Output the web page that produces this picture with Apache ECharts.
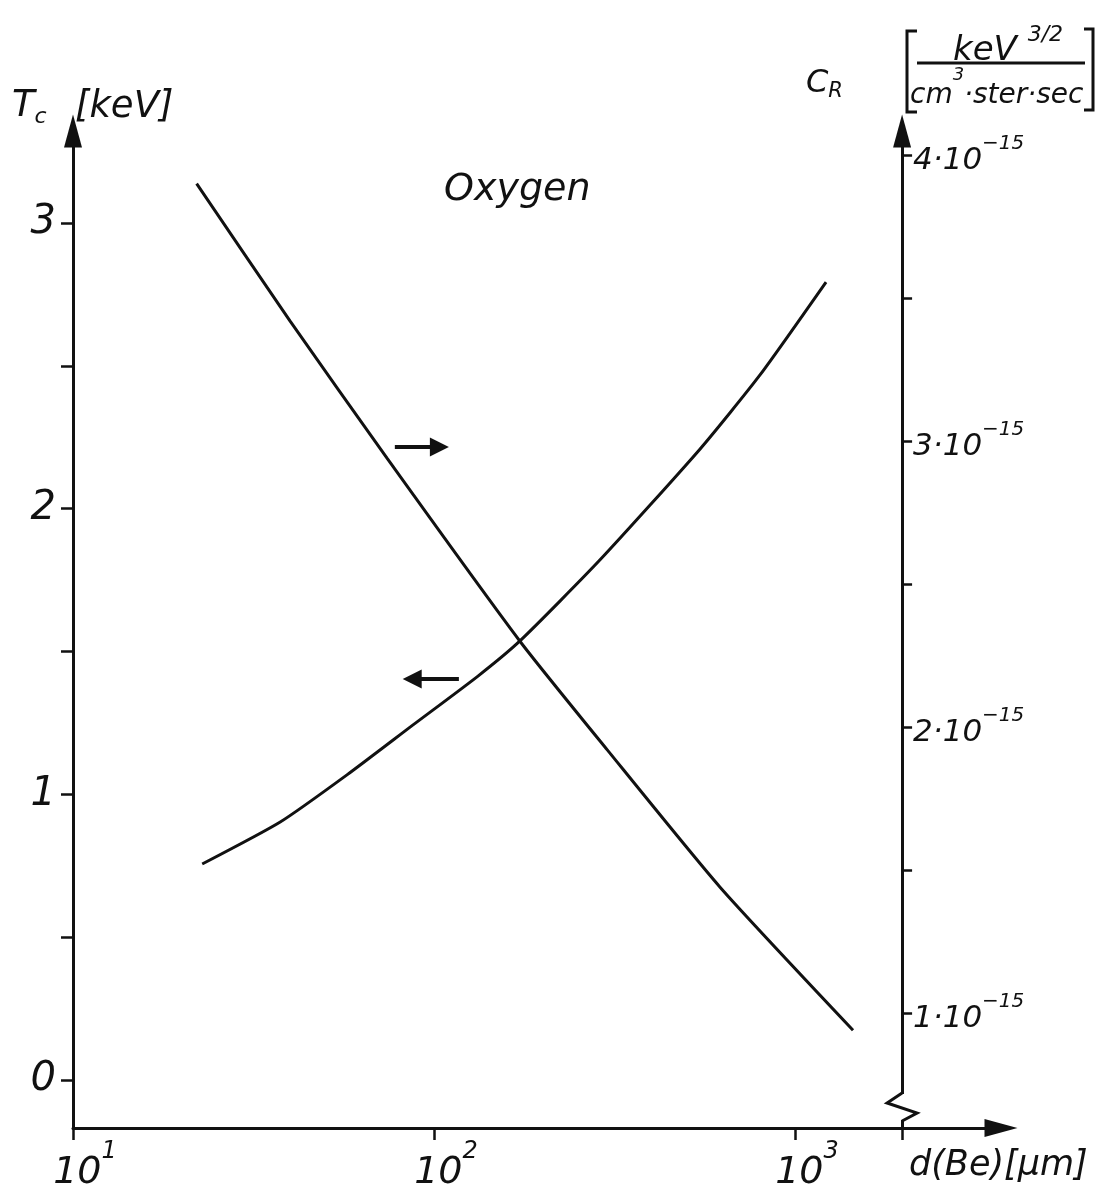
<!DOCTYPE html>
<html><head><meta charset="utf-8">
<script src="https://cdn.jsdelivr.net/npm/echarts@6/dist/echarts.min.js"></script>
<style>html,body{margin:0;padding:0;background:#fff}#c{width:1101px;height:1190px}</style>
</head><body><div id="c"></div>
<script>
// ---- data ----
// rising curve: colour temperature T_c [keV] vs Be thickness d [µm] (left axis)
const tcThickness = [22.8, 37.5, 57.4, 87.5, 132.4, 173, 288, 546, 800, 1219];
const tcValues    = [0.756, 0.903, 1.068, 1.243, 1.414, 1.537, 1.820, 2.209, 2.468, 2.793];
// falling curve: count ratio C_R in units of 10^-15 (right axis)
const crThickness = [22.0, 39.9, 74.1, 173, 302, 620, 1448];
const crValues    = [3.90, 3.42, 2.94, 2.30, 1.92, 1.44, 0.94];
// ticks
const xTickValues   = [10, 100, 1000];
const tcTickValues  = [0, 0.5, 1, 1.5, 2, 2.5, 3];
const tcLabelValues = [0, 1, 2, 3];
const crTickValues  = [1, 1.5, 2, 2.5, 3, 3.5, 4];
const crLabelValues = [1, 2, 3, 4];
const crExponent = '\u221215';
// axis ranges
const xRange  = [10, 3721];
const tcRange = [-0.168, 3.322];
const crRange = [0.598, 4.084];
const rightAxisAt = 1980;            // d value where the C_R axis stands
// pointer arrows telling which axis a curve belongs to
const arrowToCR = [[77.9, 2.979], [103.5, 2.979]];
const arrowToTc = [[117.2, 1.404], [87.0, 1.404]];

const FONT = "'DejaVu Sans', 'Noto Sans', sans-serif";
const INK = '#111';
const pair = (xs, ys) => xs.map((x, i) => [x, ys[i]]);
const txt = (size, extra) => Object.assign({fontSize: size, fontFamily: FONT, fontStyle: 'italic', fill: INK}, extra || {});

const chart = echarts.init(document.getElementById('c'));
const axisLineStyle = {color: INK, width: 3};
const option = {
  animation: false,
  backgroundColor: '#fff',
  grid: {left: 73, right: 100, top: 131, bottom: 62, containLabel: false, outerBoundsMode: 'none'},
  xAxis: {
    type: 'log', logBase: 10, min: xRange[0], max: xRange[1],
    axisLine: {show: true, onZero: false, lineStyle: axisLineStyle, symbol: ['none', 'triangle'], symbolSize: [18, 33]},
    axisTick: {show: true, length: 12, lineStyle: {color: INK, width: 2.5}, customValues: xTickValues.concat([rightAxisAt])},
    axisLabel: {
      customValues: xTickValues, margin: 12, padding: [0, 0, 0, 24],
      formatter: v => '{b|10}{s|' + Math.round(Math.log10(v)) + '}',
      rich: {
        b: {fontSize: 38, fontFamily: FONT, fontStyle: 'italic', color: INK, lineHeight: 52, verticalAlign: 'bottom'},
        s: {fontSize: 24, fontFamily: FONT, fontStyle: 'italic', color: INK, lineHeight: 20, verticalAlign: 'top'}
      }
    },
    splitLine: {show: false}, minorTick: {show: false}, minorSplitLine: {show: false}
  },
  yAxis: [
    {
      type: 'value', position: 'left', min: tcRange[0], max: tcRange[1],
      axisLine: {show: true, onZero: false, lineStyle: axisLineStyle, symbol: ['none', 'triangle'], symbolSize: [18, 33]},
      axisTick: {show: true, length: 12, lineStyle: {color: INK, width: 2.5}, customValues: tcTickValues},
      axisLabel: {customValues: tcLabelValues, margin: 17, fontSize: 40, fontFamily: FONT, fontStyle: 'italic', color: INK},
      splitLine: {show: false}
    },
    {
      type: 'value', position: 'right', min: crRange[0], max: crRange[1], offset: 0,
      axisLine: {show: true, onZero: false, lineStyle: axisLineStyle, symbol: ['none', 'triangle'], symbolSize: [18, 33]},
      axisTick: {show: true, length: 10, lineStyle: {color: INK, width: 2.5}, customValues: crTickValues},
      axisLabel: {
        customValues: crLabelValues, margin: 11,
        formatter: v => '{b|' + v + '\u00b710}{s|' + crExponent + '}',
        rich: {
          b: {fontSize: 31, fontFamily: FONT, fontStyle: 'italic', color: INK, lineHeight: 42, verticalAlign: 'bottom'},
          s: {fontSize: 20, fontFamily: FONT, fontStyle: 'italic', color: INK, lineHeight: 20, verticalAlign: 'top'}
        }
      },
      splitLine: {show: false}
    }
  ],
  series: [
    {
      type: 'line', name: 'T_c', xAxisIndex: 0, yAxisIndex: 0,
      data: pair(tcThickness, tcValues), smooth: 0.2, symbol: 'none',
      lineStyle: {color: INK, width: 3},
      markLine: {
        silent: true, animation: false, symbol: ['none', 'triangle'], symbolSize: 19,
        label: {show: false}, lineStyle: {color: INK, width: 4, type: 'solid'},
        data: [[{coord: arrowToTc[0]}, {coord: arrowToTc[1]}]]
      }
    },
    {
      type: 'line', name: 'C_R', xAxisIndex: 0, yAxisIndex: 1,
      data: pair(crThickness, crValues), smooth: 0.2, symbol: 'none',
      lineStyle: {color: INK, width: 3},
      markLine: {
        silent: true, animation: false, symbol: ['none', 'triangle'], symbolSize: 19,
        label: {show: false}, lineStyle: {color: INK, width: 4, type: 'solid'},
        data: [[{coord: arrowToCR[0]}, {coord: arrowToCR[1]}]]
      }
    }
  ],
  graphic: {elements: [
    {id: 'tc', type: 'text', x: 12, y: 88, z: 50, style: {text: '{a|T}{b|c}', verticalAlign: 'top', rich: {
      a: txt(37, {lineHeight: 40, verticalAlign: 'top'}), b: txt(22, {lineHeight: 22, verticalAlign: 'bottom'})}}},
    {id: 'kev', type: 'text', x: 75, y: 107, z: 50, style: txt(37, {text: '[keV]', verticalAlign: 'middle'})},
    {id: 'cr', type: 'text', x: 806, y: 68, z: 50, style: {text: '{a|C}{b|R}', verticalAlign: 'top', rich: {
      a: txt(32, {lineHeight: 34, verticalAlign: 'top'}), b: txt(21, {lineHeight: 21, verticalAlign: 'bottom'})}}},
    {id: 'unitNum', type: 'text', x: 953, y: 24, z: 50, style: {text: '{b|keV }{s|3/2}', verticalAlign: 'top', rich: {
      b: txt(34, {lineHeight: 44, verticalAlign: 'bottom'}), s: txt(22, {lineHeight: 22, verticalAlign: 'top'})}}},
    {id: 'unitDen', type: 'text', x: 910, y: 66, z: 50, style: {text: '{b|cm}{s|3}{b|\u00b7ster\u00b7sec}', verticalAlign: 'top', rich: {
      b: txt(28, {lineHeight: 44, verticalAlign: 'bottom'}), s: txt(18, {lineHeight: 18, verticalAlign: 'top'})}}},
    {id: 'bar', type: 'line', z: 50, shape: {x1: 917, y1: 63, x2: 1085, y2: 63}, style: {stroke: INK, lineWidth: 3}},
    {id: 'brL', type: 'polyline', z: 50, shape: {points: [[917, 31], [907, 31], [907, 112], [917, 112]]}, style: {stroke: INK, lineWidth: 3, fill: null}},
    {id: 'brR', type: 'polyline', z: 50, shape: {points: [[1084, 29], [1093, 29], [1093, 110], [1084, 110]]}, style: {stroke: INK, lineWidth: 3, fill: null}},
    {id: 'oxy', type: 'text', x: 444, y: 190, z: 50, style: txt(38, {text: 'Oxygen', verticalAlign: 'middle'})},
    {id: 'xname', type: 'text', x: 909, y: 1166, z: 50, style: txt(35, {text: 'd(Be)[\u03bcm]', verticalAlign: 'middle'})}
  ]}
};
chart.setOption(option);

// stand the C_R axis at d = rightAxisAt and add the axis-break zigzag near its foot
const axisX = chart.convertToPixel({xAxisIndex: 0}, rightAxisAt);
const gridRightX = chart.convertToPixel({xAxisIndex: 0}, xRange[1]);
const footY = chart.convertToPixel({yAxisIndex: 1}, crRange[0]);
chart.setOption({
  yAxis: [{}, {offset: axisX - gridRightX}],
  graphic: {elements: [
    {id: 'gapCover', type: 'rect', z: 60, shape: {x: axisX - 4, y: footY - 34, width: 8, height: 26}, style: {fill: '#fff'}},
    {id: 'zigzag', type: 'polyline', z: 61, shape: {points: [
      [axisX, footY - 35], [axisX - 15, footY - 25], [axisX + 15, footY - 15], [axisX, footY - 7]
    ]}, style: {stroke: INK, lineWidth: 3, fill: null}}
  ]}
});
</script>
</body></html>
